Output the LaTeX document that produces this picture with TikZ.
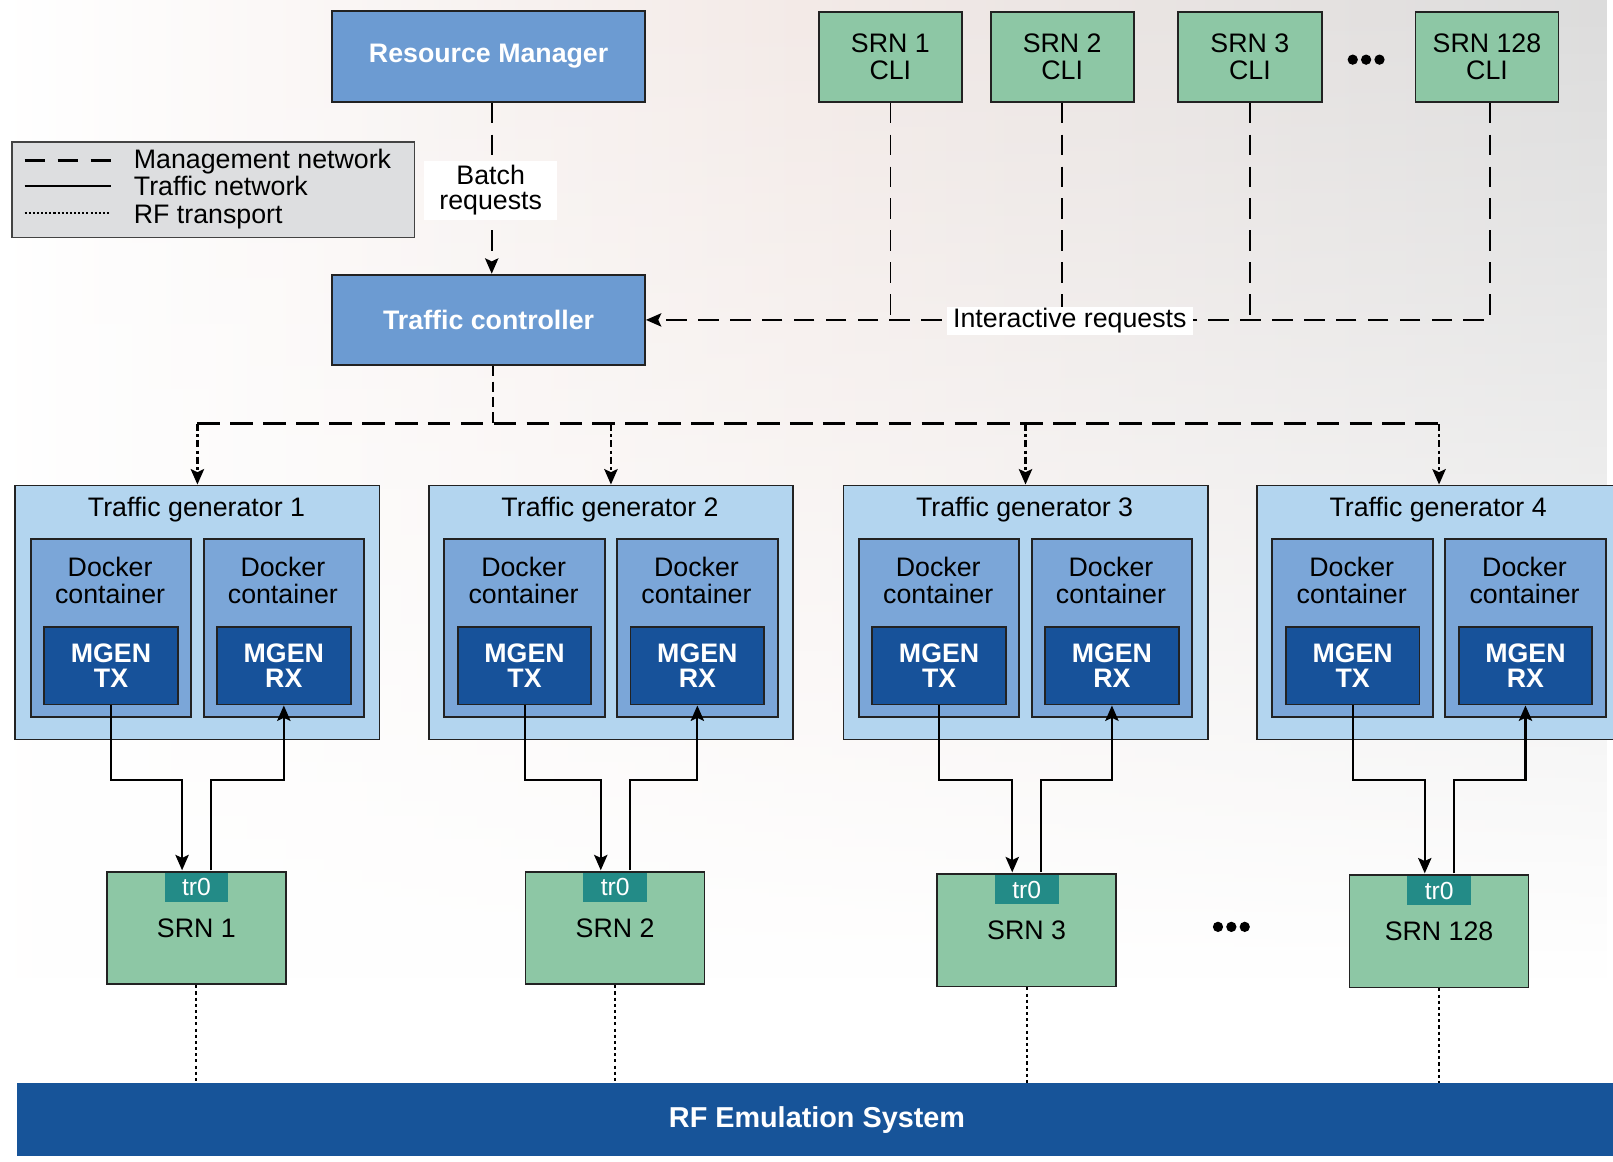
\documentclass[tikz,border=0pt]{standalone}
\usepackage{fontspec}
\setmainfont{Liberation Sans}
\usetikzlibrary{arrows.meta,fadings}

\newcommand\pxfont[2]{\fontsize{#1}{#2}\selectfont}

\definecolor{mgrblue}{HTML}{6C9BD2}
\definecolor{srngreen}{HTML}{8DC7A5}
\definecolor{genblue}{HTML}{B3D5EF}
\definecolor{dockblue}{HTML}{7BA6D8}
\definecolor{mgenblue}{HTML}{17529A}
\definecolor{tabteal}{HTML}{238B87}
\definecolor{rfblue}{HTML}{175499}
\definecolor{legendgrey}{HTML}{DDDEE0}
\definecolor{edge}{HTML}{222222}
\definecolor{bgpink}{HTML}{F3EAE7}
\definecolor{bggrey}{HTML}{DCDCDC}

\tikzset{
  boxframe/.style={draw=edge, line width=1.8pt, inner sep=0pt, align=center},
  plaintext/.style={align=center, inner sep=0pt, font=\pxfont{26}{26}},
  mgrbox/.style={boxframe, fill=mgrblue, text=white, font=\pxfont{26}{26}\bfseries},
  clibox/.style={boxframe, fill=srngreen, font=\pxfont{26}{26}},
  genbox/.style={boxframe, fill=genblue},
  dockbox/.style={boxframe, fill=dockblue},
  mgenbox/.style={boxframe, fill=mgenblue, text=white, font=\pxfont{26}{24}\bfseries},
  srnbox/.style={boxframe, fill=srngreen, font=\pxfont{26}{26}},
  tabbox/.style={fill=tabteal, text=white, inner sep=0pt, font=\pxfont{24}{24}},
  rfbar/.style={fill=rfblue, inner sep=0pt, text=white, font=\pxfont{28}{28}\bfseries},
  mgmtline/.style={line width=1.6pt, dash pattern=on 20pt off 11pt},
  stubline/.style={line width=1.8pt, dash pattern=on 10pt off 5pt},
  busline/.style={line width=2.6pt, dash pattern=on 22pt off 10pt},
  dropline/.style={line width=2.2pt, dash pattern=on 7pt off 3pt on 3pt off 3pt},
  trafficline/.style={line width=2pt},
  rfline/.style={line width=2pt, dash pattern=on 3pt off 3pt},
  tip/.style={-{Stealth[length=15pt,width=13pt,inset=3pt]}},
}

\begin{document}
\begin{tikzpicture}[x=1pt,y=-1pt]
\useasboundingbox (0,0) rectangle (1568,1129);

% backdrop: warm grey wash at the top fading to white
\fill[white] (0,0) rectangle (1568,1129);
\shade[left color=white, right color=bggrey, middle color=bgpink, path fading=south]
  (0,0) rectangle (1568,950);

% helper rows
\coordinate (row) at (0,758);
\coordinate (bus) at (0,412);

% managers
\node[mgrbox, minimum width=304, minimum height=88] (rm) at (475,55) {Resource Manager};
\node[mgrbox, minimum width=304, minimum height=88] (tc) at (475,311) {Traffic controller};

% legend
\node[boxframe, draw=edge!85, fill=legendgrey, anchor=north west,
      minimum width=391, minimum height=93] (legend) at (11,137) {};
\draw[line width=2.6pt, dash pattern=on 20pt off 12pt] (24,156) -- (108,156);
\draw[line width=2pt] (24,181) -- (108,181);
\draw[line width=1.6pt, dash pattern=on 2pt off 2pt] (24,207) -- (106,207);
\node[plaintext, anchor=base west] (lgmgmt) at (130,164) {Management network};
\node[plaintext, anchor=base west] (lgtraffic) at (130,190) {Traffic network};
\node[plaintext, anchor=base west] (lgrf) at (130,217) {RF transport};

% batch requests
\draw[mgmtline, tip] ([xshift=3pt]rm.south) -- ([xshift=3pt]tc.north);
\node[plaintext, fill=white, minimum width=129, minimum height=57,
      font=\pxfont{26}{24}] (batch) at (477,185) {Batch\\requests};

% per-node command line interfaces
\foreach \n/\cx/\w/\lab in {1/865.5/139/1, 2/1032.5/139/2, 3/1215/140/3, 4/1445.5/139/128}
  \node[clibox, minimum width=\w, minimum height=87] (cli\n) at (\cx,55.5) {SRN \lab\\CLI};
\foreach \dx in {-13,0,13}
  \fill (1328+\dx,58) circle (5pt);

\foreach \n in {1,2,3}
  \draw[mgmtline] (cli\n.south) -- (cli\n.south |- tc.east);
\draw[mgmtline, tip] ([xshift=3pt]cli4.south) -- ([xshift=3pt]cli4.south |- tc.east) -- (tc.east);
\node[plaintext, fill=white, inner xsep=6pt, minimum height=27] (interactive)
  at (1040,312) {Interactive requests};

% traffic generators and radio nodes
\foreach \i/\gx/\sx/\sy/\lab in {1/14/103/847/1, 2/416/510/847/2, 3/819/910/849/3, 4/1221/1311/850/128} {
  \node[genbox, anchor=north west, minimum width=354, minimum height=247] (tg\i) at (\gx,471) {};
  \node[plaintext] (tgt\i) at (\gx+177,495) {Traffic generator \i};
  \node[dockbox, anchor=north west, minimum width=156, minimum height=173] (dl\i) at (\gx+15,523) {};
  \node[dockbox, anchor=north west, minimum width=156, minimum height=173] (dr\i) at (\gx+183,523) {};
  \node[plaintext] (dlt\i) at (\gx+93,564) {Docker\\container};
  \node[plaintext] (drt\i) at (\gx+261,564) {Docker\\container};
  \node[mgenbox, anchor=north west, minimum width=130, minimum height=75] (tx\i) at (\gx+28,609) {MGEN\\TX};
  \node[mgenbox, anchor=north west, minimum width=130, minimum height=75] (rx\i) at (\gx+196,609) {MGEN\\RX};
  \node[srnbox, anchor=north west, minimum width=174, minimum height=109] (srn\i) at (\sx,\sy) {SRN \lab};
  \node[tabbox, anchor=north, minimum width=62, minimum height=28] (tr\i) at (\sx+88,\sy+1.5) {tr0};
  \coordinate (in\i) at (\sx+74,\sy-1);
  \coordinate (out\i) at (\sx+102,\sy-1);
  \draw[trafficline, tip] (tx\i.south) -- (tx\i.south |- row) -| (in\i);
  \draw[trafficline, tip] (out\i) -- (out\i |- row) -| (rx\i.south);
  \draw[dropline, tip] (tg\i.north |- bus) -- (tg\i.north);
}
\foreach \dx in {-13,0,13}
  \fill (1197+\dx,901) circle (5pt);

% management bus from the controller
\draw[stubline] ([xshift=4pt]tc.south) -- ([xshift=4pt]tc.south |- bus);
\draw[busline] (tg1.north |- bus) -- (tg4.north |- bus);

% RF emulation system
\node[rfbar, anchor=north west, minimum width=1556, minimum height=71] (rf) at (16,1053) {RF Emulation System};
\foreach \i in {1,2,3,4}
  \draw[rfline] (srn\i.south) -- (srn\i.south |- rf.north);
\end{tikzpicture}
\end{document}
